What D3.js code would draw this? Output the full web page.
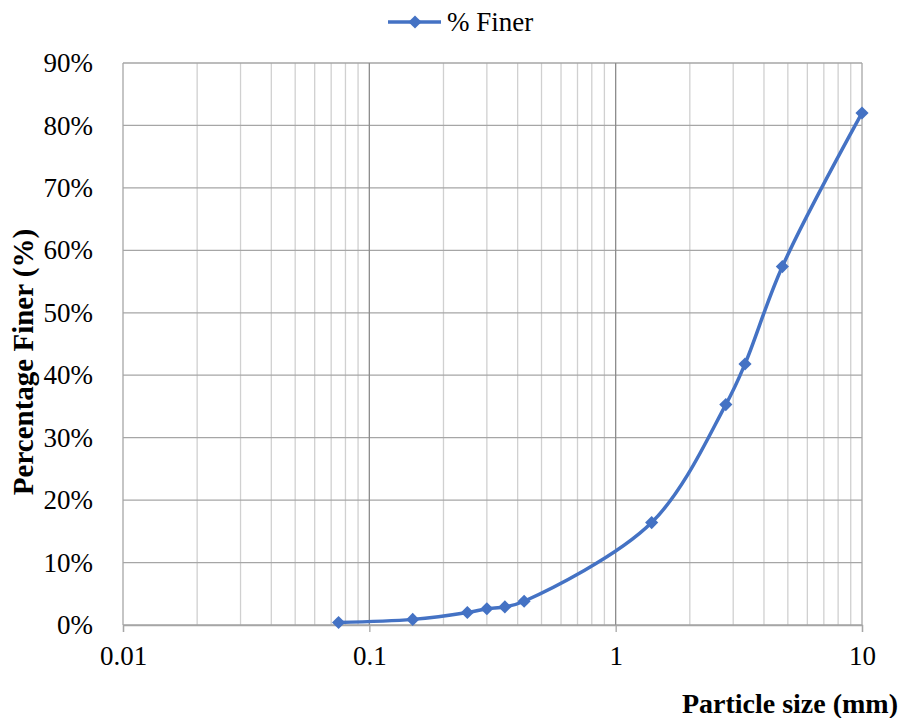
<!DOCTYPE html>
<html lang="en">
<head>
    <meta charset="UTF-8">
    <title>Particle size distribution</title>
    <style>
        body { margin: 0; background: #fff; }
        svg { display: block; font-family: "Liberation Serif", "Times New Roman", serif; }
    </style>
</head>
<body>
    <svg width="904" height="718"></svg>
    <script src="https://d3js.org/d3.v7.min.js"></script>
    <script>
        // sieve sizes (mm) and % finer
        const sizes = [0.075, 0.15, 0.25, 0.3, 0.355, 0.425, 1.4, 2.8, 3.35, 4.75, 10]
        const finer = [0.4, 0.9, 2.0, 2.6, 2.9, 3.8, 16.4, 35.3, 41.8, 57.4, 82.0]
        const xTicks = [0.01, 0.1, 1, 10]
        const yTicks = [0, 10, 20, 30, 40, 50, 60, 70, 80, 90]
        const seriesName = '% Finer'

        const data = sizes.map((s, i) => ({ x: s, y: finer[i] }))

        const plotL = 123, plotR = 862, plotT = 63, plotB = 625
        const blue = '#4472C4'

        const svg = d3.select('svg')

        const x = d3.scaleLog().domain([0.01, 10]).range([plotL, plotR])
        const y = d3.scaleLinear().domain([0, 90]).range([plotB, plotT])

        // minor vertical grid (2..9 of each decade)
        const minor = []
        for (let d = 0.01; d < 10; d *= 10) {
            for (let k = 2; k <= 9; k++) minor.push(+(d * k).toPrecision(3))
        }
        svg.append('g').selectAll('line')
            .data(minor).enter()
            .append('line')
                .attr('x1', d => x(d)).attr('x2', d => x(d))
                .attr('y1', plotT).attr('y2', plotB)
                .attr('stroke', '#d0d0d0').attr('stroke-width', 1.3)

        // horizontal grid
        svg.append('g').selectAll('line')
            .data(yTicks).enter()
            .append('line')
                .attr('x1', plotL).attr('x2', plotR)
                .attr('y1', d => y(d)).attr('y2', d => y(d))
                .attr('stroke', '#a6a6a6').attr('stroke-width', 1.3)

        // major vertical grid
        svg.append('g').selectAll('line')
            .data(xTicks).enter()
            .append('line')
                .attr('x1', d => x(d)).attr('x2', d => x(d))
                .attr('y1', plotT).attr('y2', plotB)
                .attr('stroke', d => (d === 0.01 || d === 10) ? '#a6a6a6' : '#8c8c8c')
                .attr('stroke-width', 1.3)

        // x axis with ticks below
        const xAxis = svg.append('g')
            .attr('transform', `translate(0,${plotB})`)
            .call(d3.axisBottom(x).tickValues(xTicks).tickFormat(d => String(d)).tickSize(7).tickPadding(14))
        xAxis.select('.domain').attr('stroke', '#a6a6a6').attr('stroke-width', 1.3)
        xAxis.selectAll('.tick line').attr('stroke', '#a6a6a6').attr('stroke-width', 1.3)
        xAxis.selectAll('text')
            .attr('font-family', '"Liberation Serif", serif')
            .attr('font-size', 27).attr('fill', '#000')

        // y axis labels
        const yAxis = svg.append('g')
            .attr('transform', `translate(${plotL},0)`)
            .call(d3.axisLeft(y).tickValues(yTicks).tickFormat(d => d + '%').tickSize(0).tickPadding(30))
        yAxis.select('.domain').remove()
        yAxis.selectAll('text')
            .attr('font-family', '"Liberation Serif", serif')
            .attr('font-size', 27).attr('fill', '#000')

        // smoothed line
        const line = d3.line()
            .x(d => x(d.x)).y(d => y(d.y))
            .curve(d3.curveCatmullRom.alpha(0.5))
        svg.append('path')
            .datum(data)
            .attr('d', line)
            .attr('fill', 'none')
            .attr('stroke', blue)
            .attr('stroke-width', 3.5)
            .attr('stroke-linejoin', 'round')

        const diamond = d3.symbol().type(d3.symbolDiamond2).size(110)
        svg.append('g').selectAll('path')
            .data(data).enter()
            .append('path')
                .attr('d', diamond)
                .attr('transform', d => `translate(${x(d.x)},${y(d.y)})`)
                .attr('fill', blue)

        // legend
        const lg = svg.append('g').attr('transform', 'translate(388,22)')
        lg.append('line').attr('x1', 0).attr('x2', 53).attr('y1', 0).attr('y2', 0)
            .attr('stroke', blue).attr('stroke-width', 3.5)
        lg.append('path').attr('d', diamond).attr('transform', 'translate(27,0)').attr('fill', blue)
        lg.append('text').attr('x', 59).attr('y', 9)
            .attr('font-size', 27).text(seriesName)

        // axis titles
        svg.append('text')
            .attr('transform', 'translate(33,362) rotate(-90)')
            .attr('text-anchor', 'middle')
            .attr('font-size', 29).attr('font-weight', 'bold')
            .text('Percentage Finer (%)')
        svg.append('text')
            .attr('x', 898).attr('y', 713)
            .attr('text-anchor', 'end')
            .attr('font-size', 28).attr('font-weight', 'bold')
            .text('Particle size (mm)')
    </script>
</body>
</html>
